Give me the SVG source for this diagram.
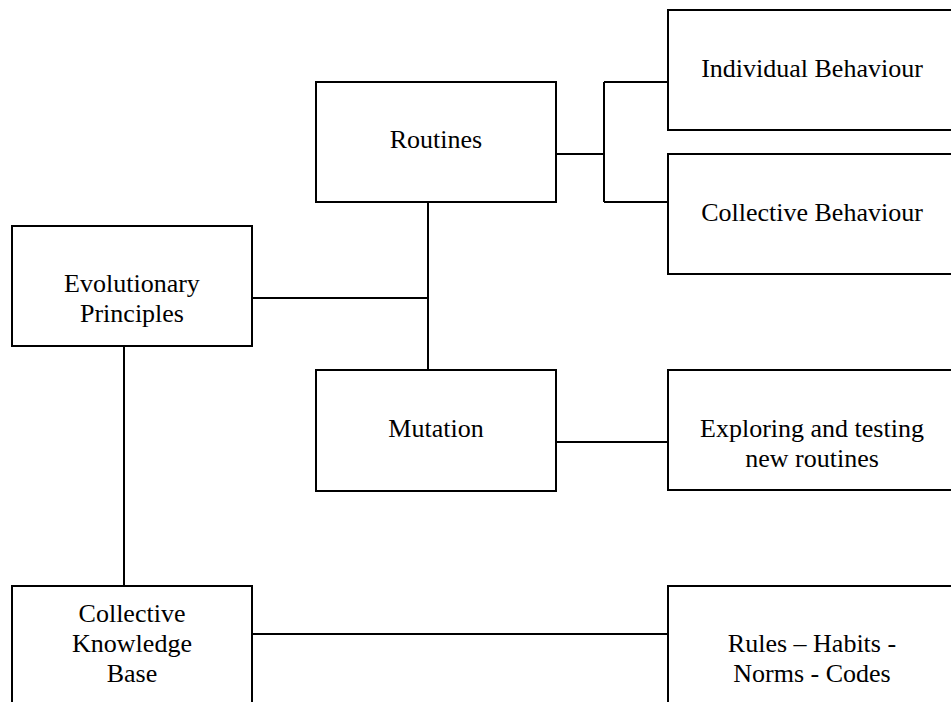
<svg xmlns="http://www.w3.org/2000/svg" width="951" height="702" viewBox="0 0 951 702">
<style>
.box{fill:#fff;stroke:#000;stroke-width:2}
.lbl{font-family:"Liberation Serif","Times New Roman",serif;font-size:26px;fill:#000;text-anchor:middle}
.conn line{stroke:#000;stroke-width:2}
</style>
<rect width="951" height="702" fill="#fff"/>
<g class="conn" id="connectors">
<line x1="556" y1="154" x2="604" y2="154"/>
<line x1="604" y1="82" x2="604" y2="202"/>
<line x1="604" y1="82" x2="668" y2="82"/>
<line x1="604" y1="202" x2="668" y2="202"/>
<line x1="428" y1="202" x2="428" y2="370"/>
<line x1="252" y1="298" x2="428" y2="298"/>
<line x1="124" y1="346" x2="124" y2="586"/>
<line x1="556" y1="442" x2="668" y2="442"/>
<line x1="252" y1="634" x2="668" y2="634"/>
</g>
<g id="routines">
<rect class="box" x="316" y="82" width="240" height="120"/>
<text class="lbl" x="436" y="148">Routines</text>
</g>
<g id="individual">
<rect class="box" x="668" y="10" width="290" height="120"/>
<text class="lbl" x="812" y="77">Individual Behaviour</text>
</g>
<g id="collective-behaviour">
<rect class="box" x="668" y="154" width="290" height="120"/>
<text class="lbl" x="812" y="221">Collective Behaviour</text>
</g>
<g id="evolutionary">
<rect class="box" x="12" y="226" width="240" height="120"/>
<text class="lbl" x="132" y="292">Evolutionary</text>
<text class="lbl" x="132" y="322">Principles</text>
</g>
<g id="mutation">
<rect class="box" x="316" y="370" width="240" height="121"/>
<text class="lbl" x="436" y="437">Mutation</text>
</g>
<g id="exploring">
<rect class="box" x="668" y="370" width="290" height="120"/>
<text class="lbl" x="812" y="437">Exploring and testing</text>
<text class="lbl" x="812" y="467">new routines</text>
</g>
<g id="knowledge">
<rect class="box" x="12" y="586" width="240" height="130"/>
<text class="lbl" x="132" y="622">Collective</text>
<text class="lbl" x="132" y="652">Knowledge</text>
<text class="lbl" x="132" y="682">Base</text>
</g>
<g id="rules">
<rect class="box" x="668" y="586" width="290" height="130"/>
<text class="lbl" x="812" y="652">Rules – Habits -</text>
<text class="lbl" x="812" y="682">Norms - Codes</text>
</g>
</svg>
